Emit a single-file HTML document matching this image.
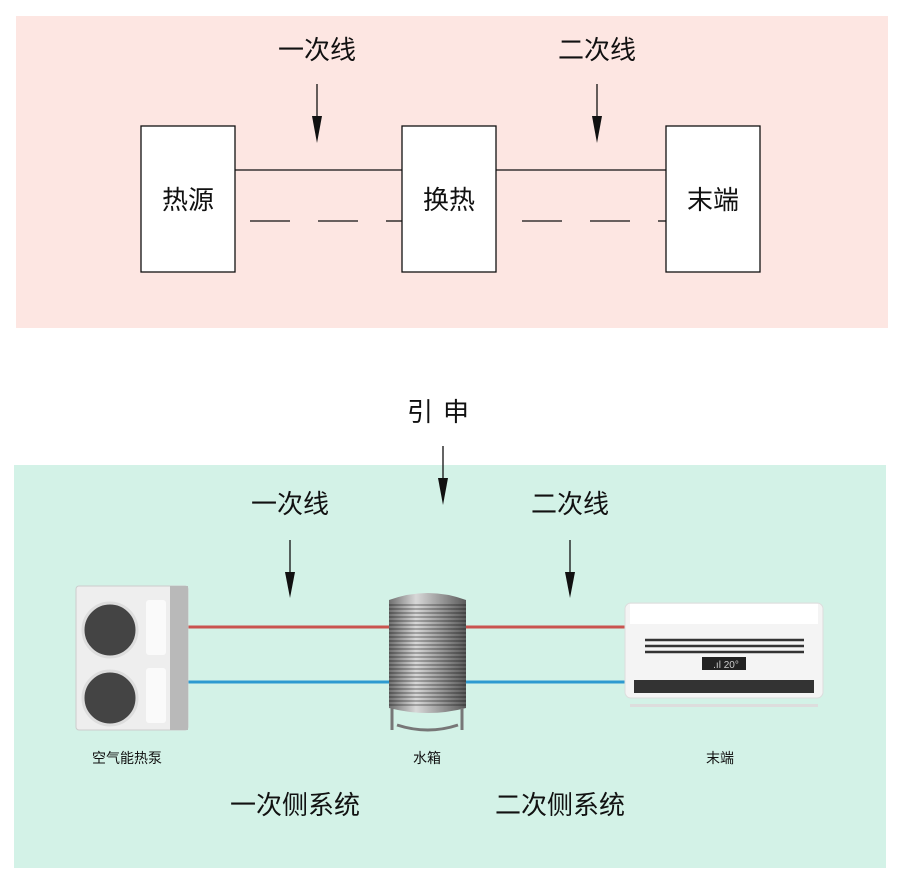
<!DOCTYPE html>
<html><head><meta charset="utf-8"><style>
body{margin:0;width:900px;height:880px;background:#fff;font-family:"Liberation Sans","Noto Sans CJK SC",sans-serif;}
svg{display:block}
</style></head><body>
<svg width="900" height="880" viewBox="0 0 900 880" xmlns="http://www.w3.org/2000/svg" font-family="Liberation Sans, Noto Sans CJK SC, sans-serif">
<defs>
<marker id="ah" viewBox="0 0 10 20" refX="5" refY="20" markerWidth="10" markerHeight="20" markerUnits="userSpaceOnUse" orient="auto-start-reverse"></marker>
<linearGradient id="tank" x1="0" x2="1"><stop offset="0" stop-color="#6f6f6f"/><stop offset="0.35" stop-color="#d8d8d8"/><stop offset="0.6" stop-color="#a8a8a8"/><stop offset="1" stop-color="#5a5a5a"/></linearGradient>
<pattern id="rib" width="4" height="4" patternUnits="userSpaceOnUse"><rect width="4" height="2" fill="#000" opacity="0.25"/></pattern>
</defs>
<rect x="16" y="16" width="872" height="312" fill="#fde6e2"/>
<rect x="14" y="465" width="872" height="403" fill="#d3f2e7"/>
<g font-size="26" fill="#111" text-anchor="middle">
<text x="317" y="59">一次线</text><text x="597" y="59">二次线</text>
<text x="443" y="421" letter-spacing="10">引申</text>
<text x="290" y="513">一次线</text><text x="570" y="513">二次线</text>
<text x="295" y="814">一次侧系统</text><text x="560" y="814">二次侧系统</text>
</g>
<g stroke="#111" stroke-width="1.3">
<line x1="317" y1="84" x2="317" y2="120"/><line x1="597" y1="84" x2="597" y2="120"/>
<line x1="443" y1="446" x2="443" y2="482"/>
<line x1="290" y1="540" x2="290" y2="576"/><line x1="570" y1="540" x2="570" y2="576"/>
<line x1="235" y1="170" x2="402" y2="170"/><line x1="496" y1="170" x2="666" y2="170"/>
<line x1="250" y1="221" x2="290" y2="221"/><line x1="318" y1="221" x2="358" y2="221"/><line x1="386" y1="221" x2="402" y2="221"/>
<line x1="522" y1="221" x2="562" y2="221"/><line x1="590" y1="221" x2="630" y2="221"/><line x1="658" y1="221" x2="666" y2="221"/>
</g>
<g fill="#111">
<polygon points="312,116 322,116 317,143"/><polygon points="592,116 602,116 597,143"/>
<polygon points="438,478 448,478 443,505"/>
<polygon points="285,572 295,572 290,598"/><polygon points="565,572 575,572 570,598"/>
</g>
<g fill="#fff" stroke="#111" stroke-width="1.3">
<rect x="141" y="126" width="94" height="146"/><rect x="402" y="126" width="94" height="146"/><rect x="666" y="126" width="94" height="146"/>
</g>
<g font-size="26" fill="#111" text-anchor="middle">
<text x="188" y="209">热源</text><text x="449" y="209">换热</text><text x="713" y="209">末端</text>
</g>
<line x1="186" y1="627" x2="625" y2="627" stroke="#c9534f" stroke-width="3"/>
<line x1="186" y1="682" x2="625" y2="682" stroke="#2d9ad0" stroke-width="3"/>
<!-- heat pump -->
<rect x="76" y="586" width="112" height="144" rx="3" fill="#eeeeee" stroke="#ccc"/>
<rect x="170" y="586" width="18" height="144" fill="#b9b9b9"/>
<circle cx="110" cy="630" r="27" fill="#444" stroke="#ddd" stroke-width="3"/>
<circle cx="110" cy="698" r="27" fill="#444" stroke="#ddd" stroke-width="3"/>
<rect x="146" y="600" width="20" height="55" rx="3" fill="#fafafa"/>
<rect x="146" y="668" width="20" height="55" rx="3" fill="#fafafa"/>
<!-- tank -->
<path d="M389 600 Q428 586 466 600 L466 708 Q428 718 389 708Z" fill="url(#tank)"/>
<rect x="389" y="602" width="77" height="106" fill="url(#rib)"/>
<path d="M392 708 L392 730 M462 708 L462 730 M397 725 Q428 735 458 725" stroke="#777" stroke-width="3" fill="none"/>
<!-- AC -->
<rect x="625" y="603" width="198" height="95" rx="6" fill="#f4f4f4" stroke="#ddd"/>
<rect x="630" y="604" width="188" height="20" fill="#fff"/>
<g stroke="#333" stroke-width="2.5"><line x1="645" y1="640" x2="804" y2="640"/><line x1="645" y1="646" x2="804" y2="646"/><line x1="645" y1="652" x2="804" y2="652"/></g>
<rect x="702" y="657" width="44" height="13" fill="#222"/>
<text x="726" y="668" font-size="10" fill="#ccc" text-anchor="middle">.ıl 20°</text>
<rect x="634" y="680" width="180" height="13" fill="#333"/>
<rect x="630" y="704" width="188" height="3" fill="#ddd"/>
<g font-size="14" fill="#111" text-anchor="middle">
<text x="127" y="763">空气能热泵</text><text x="427" y="763">水箱</text><text x="720" y="763">末端</text>
</g>
</svg>
</body></html>
